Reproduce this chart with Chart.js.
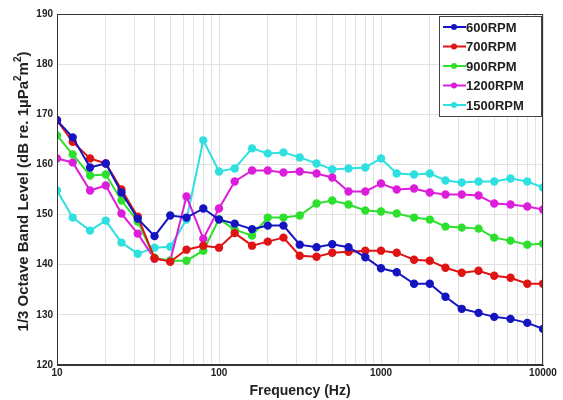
<!DOCTYPE html>
<html>
<head>
<meta charset="utf-8">
<script src="https://cdn.jsdelivr.net/npm/chart.js@4.4.1/dist/chart.umd.min.js"></script>
<style>
html,body{margin:0;padding:0;background:#fff;}
#wrap{width:563px;height:400px;position:relative;}
</style>
</head>
<body>
<div id="wrap"><canvas id="c" width="563" height="400"></canvas></div>
<script>
const freqs = [10,12.5,16,20,25,31.5,40,50,63,80,100,125,160,200,250,315,400,500,630,800,1000,1250,1600,2000,2500,3150,4000,5000,6300,8000,10000];
const rpm600 = [168.8,165.4,159.4,160.2,154.4,149.2,145.7,149.8,149.4,151.2,149.0,148.2,147.1,147.8,147.8,144.0,143.5,144.1,143.5,141.5,139.3,138.5,136.2,136.2,133.6,131.2,130.4,129.6,129.2,128.4,127.2];
const rpm700 = [168.8,164.5,161.2,160.2,155.0,149.6,141.3,140.6,143.0,143.8,143.4,146.3,143.8,144.6,145.4,141.8,141.6,142.4,142.6,142.8,142.8,142.4,141.0,140.8,139.4,138.4,138.8,137.8,137.4,136.2,136.2];
const rpm900 = [165.8,162.0,157.8,158.0,152.8,148.6,141.4,140.8,140.8,142.8,149.1,147.0,145.8,149.4,149.4,149.8,152.2,152.8,152.0,150.8,150.6,150.2,149.4,149.0,147.6,147.4,147.2,145.4,144.8,144.0,144.2];
const rpm1200 = [161.2,160.4,154.8,155.8,150.2,146.2,141.2,140.8,153.6,145.2,151.2,156.6,158.8,158.8,158.4,158.6,158.2,157.4,154.6,154.6,156.2,155.0,155.2,154.4,154.0,154.0,153.8,152.2,152.0,151.6,151.0];
const rpm1500 = [154.8,149.4,146.8,148.8,144.4,142.2,143.4,143.6,149.0,164.8,158.6,159.2,163.2,162.2,162.4,161.4,160.2,159.0,159.2,159.4,161.2,158.2,158.0,158.2,156.8,156.4,156.6,156.6,157.2,156.6,155.4];
const seriesNames = ['600RPM','700RPM','900RPM','1200RPM','1500RPM'];
const seriesColors = ['#1414c0','#e01414','#2ee02e','#dc1edc','#2ee0e0'];
const yTicks = [120,130,140,150,160,170,180,190];
const xTickLabels = [10,100,1000,10000];
const yTitleParts = [['1/3 Octave Band Level (dB re. 1µPa', false], ['2', true], ['m', false], ['2', true], [')', false]];
const xTitle = 'Frequency (Hz)';

const allSeries = [rpm600, rpm700, rpm900, rpm1200, rpm1500];
const datasets = allSeries.map((vals, i) => ({
  label: seriesNames[i],
  data: vals.map((v, j) => ({x: freqs[j], y: v})),
  borderColor: seriesColors[i],
  backgroundColor: seriesColors[i],
  pointBackgroundColor: seriesColors[i],
  pointBorderColor: seriesColors[i],
  borderWidth: 2,
  pointRadius: 3.2,
  pointHoverRadius: 3.2,
  tension: 0
}));

const FONT = 'Liberation Sans, Arial, sans-serif';

const frameLegend = {
  id: 'frameLegend',
  afterDraw(chart) {
    const ctx = chart.ctx;
    const a = chart.chartArea;
    ctx.save();
    ctx.strokeStyle = '#333';
    ctx.lineWidth = 1;
    ctx.strokeRect(a.left + 0.5, a.top + 0.5, a.right - a.left - 1, a.bottom - a.top - 1);
    // y title with superscripts
    const mainF = 'bold 15px ' + FONT, supF = 'bold 10px ' + FONT;
    let total = 0;
    yTitleParts.forEach(([t, sup]) => { ctx.font = sup ? supF : mainF; total += ctx.measureText(t).width; });
    ctx.translate(24, (a.top + a.bottom) / 2 + 2);
    ctx.rotate(-Math.PI / 2);
    ctx.fillStyle = '#222';
    ctx.textBaseline = 'middle';
    let xx = -total / 2;
    yTitleParts.forEach(([t, sup]) => {
      ctx.font = sup ? supF : mainF;
      ctx.fillText(t, xx, sup ? -6 : 0);
      xx += ctx.measureText(t).width;
    });
    ctx.setTransform(1, 0, 0, 1, 0, 0);
    // legend box
    const bw = 102, bh = 100;
    const bx = a.right - bw - 2, by = a.top + 2;
    ctx.fillStyle = '#fff';
    ctx.fillRect(bx, by, bw, bh);
    ctx.strokeStyle = '#444';
    ctx.lineWidth = 1;
    ctx.strokeRect(bx + 0.5, by + 0.5, bw, bh);
    ctx.font = 'bold 13px ' + FONT;
    ctx.textBaseline = 'middle';
    chart.data.datasets.forEach((ds, i) => {
      const yy = by + 11 + i * 19.5;
      ctx.strokeStyle = ds.borderColor;
      ctx.lineWidth = 2;
      ctx.beginPath();
      ctx.moveTo(bx + 4, yy);
      ctx.lineTo(bx + 27, yy);
      ctx.stroke();
      ctx.fillStyle = ds.borderColor;
      ctx.beginPath();
      ctx.arc(bx + 15, yy, 3, 0, Math.PI * 2);
      ctx.fill();
      ctx.fillStyle = '#222';
      ctx.fillText(ds.label, bx + 27, yy + 1);
    });
    ctx.restore();
  }
};

new Chart(document.getElementById('c'), {
  type: 'line',
  data: { datasets },
  plugins: [frameLegend],
  options: {
    responsive: false,
    animation: false,
    devicePixelRatio: 1,
    layout: { padding: { top: 14, right: 20, left: 0, bottom: 0 } },
    plugins: { legend: { display: false }, tooltip: { enabled: false } },
    scales: {
      x: {
        type: 'logarithmic',
        min: 10, max: 10000,
        afterBuildTicks(scale) {
          const t = [];
          for (let d = 10; d < 10000; d *= 10) {
            for (let k = 1; k < 10; k++) t.push({ value: d * k });
          }
          t.push({ value: 10000 });
          scale.ticks = t;
        },
        afterFit(scale) { scale.height = 35; },
        ticks: {
          autoSkip: false, maxRotation: 0, padding: 2,
          color: '#222',
          font: { family: FONT, size: 10, weight: 'bold' },
          callback(v) { return xTickLabels.includes(v) ? String(v) : ''; }
        },
        grid: { color: '#e2e2e2', lineWidth: 1, tickLength: 0, drawTicks: false },
        border: { display: true, color: '#333' },
        title: {
          display: true, text: xTitle, color: '#222',
          font: { family: FONT, size: 14, weight: 'bold' },
          padding: { top: 2, bottom: 0 }
        }
      },
      y: {
        min: 120, max: 190,
        afterBuildTicks(scale) { scale.ticks = yTicks.map(v => ({ value: v })); },
        afterFit(scale) { scale.width = 57; },
        ticks: {
          padding: 4, color: '#222',
          font: { family: FONT, size: 10, weight: 'bold' }
        },
        grid: { color: '#e2e2e2', lineWidth: 1, tickLength: 0, drawTicks: false },
        border: { display: true, color: '#333' },
        title: { display: false }
      }
    }
  }
});
</script>
</body>
</html>
